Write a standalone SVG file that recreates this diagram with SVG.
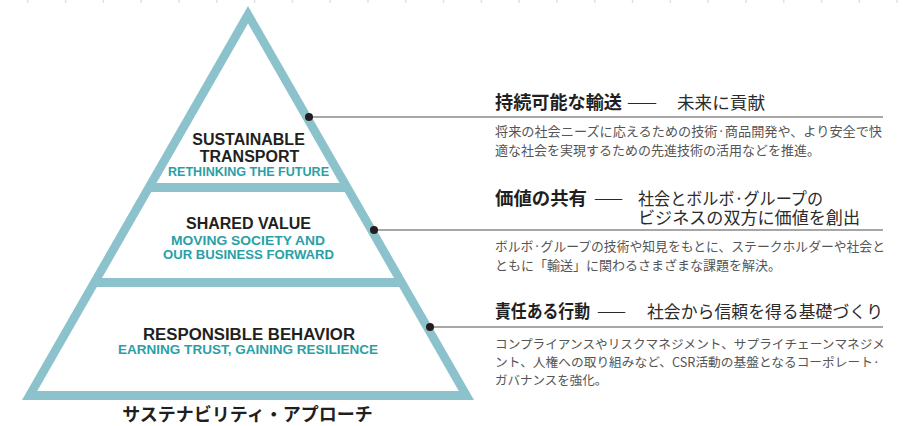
<svg xmlns="http://www.w3.org/2000/svg" width="903" height="426" viewBox="0 0 903 426">
  <style>
    .band { fill: #8cc2cc; }
    .inner { fill: #ffffff; }
    .tier-title { font-family: "Liberation Sans", Arial, sans-serif; font-weight: 700; font-size: 16px; fill: #231f20; text-anchor: middle; }
    .tier-sub { font-family: "Liberation Sans", Arial, sans-serif; font-weight: 700; font-size: 12px; fill: #2a9fa6; text-anchor: middle; }
    .jp { font-family: "Noto Sans CJK JP", "Noto Sans", sans-serif; }
    .head { font-size: 18px; font-weight: 700; fill: #1f1f1f; }
    .subhead { font-size: 17px; font-weight: 400; fill: #2b2b2b; }
    .dash { font-size: 15px; fill: #2b2b2b; }
    .body { font-size: 13px; fill: #555555; }
    .body-tight { font-size: 12.5px; fill: #555555; }
    .caption { font-size: 18px; font-weight: 700; fill: #1f1f1f; text-anchor: middle; }
    .leader { stroke: #8a8a8a; stroke-width: 1.5; fill: none; }
    .dot { fill: #231f20; }
  </style>

  <!-- faint tick row along the top edge -->
  <line x1="27" y1="1.5" x2="903" y2="1.5" stroke="#dde2e4" stroke-width="3" stroke-dasharray="1.5 36.3"/>

  <!-- pyramid outline (coloured bands show between the white tiers) -->
  <polygon class="band" points="248,6 22,400 474,400"/>

  <g id="tier-sustainable-transport">
    <polygon class="inner" points="248,23.4 156.5,183 339.5,183"/>
    <text class="tier-title" x="248.5" y="145">SUSTAINABLE</text>
    <text class="tier-title" x="249.5" y="162">TRANSPORT</text>
    <text class="tier-sub" x="248.5" y="176" textLength="161" lengthAdjust="spacingAndGlyphs">RETHINKING THE FUTURE</text>
  </g>

  <g id="tier-shared-value">
    <polygon class="inner" points="151.3,192 344.7,192 394,278 102,278"/>
    <text class="tier-title" x="248.5" y="229">SHARED VALUE</text>
    <text class="tier-sub" x="248" y="245" textLength="154" lengthAdjust="spacingAndGlyphs">MOVING SOCIETY AND</text>
    <text class="tier-sub" x="248.5" y="259" textLength="171" lengthAdjust="spacingAndGlyphs">OUR BUSINESS FORWARD</text>
  </g>

  <g id="tier-responsible-behavior">
    <polygon class="inner" points="96.8,287 399.2,287 458.8,391 37.2,391"/>
    <text class="tier-title" x="249" y="340" textLength="212" lengthAdjust="spacingAndGlyphs">RESPONSIBLE BEHAVIOR</text>
    <text class="tier-sub" x="248" y="354" textLength="260" lengthAdjust="spacingAndGlyphs">EARNING TRUST, GAINING RESILIENCE</text>
  </g>

  <g id="caption">
    <text class="jp caption" x="247.5" y="421">サステナビリティ・アプローチ</text>
  </g>

  <!-- leader lines from each tier to its description -->
  <g id="connectors">
    <line class="leader" x1="309" y1="117" x2="883" y2="117"/>
    <circle class="dot" cx="309" cy="117" r="4"/>
    <line class="leader" x1="374" y1="230" x2="883" y2="230"/>
    <circle class="dot" cx="374" cy="230" r="4"/>
    <line class="leader" x1="430" y1="327" x2="883" y2="327"/>
    <circle class="dot" cx="430" cy="327" r="4"/>
  </g>

  <g id="label-sustainable-transport" class="jp">
    <text class="head" x="495" y="109" textLength="127" lengthAdjust="spacingAndGlyphs">持続可能な輸送</text>
    <text class="dash" x="627" y="108" textLength="30" lengthAdjust="spacingAndGlyphs">——</text>
    <text class="subhead" x="677" y="109" textLength="88" lengthAdjust="spacingAndGlyphs">未来に貢献</text>
    <text class="body" x="495" y="136" textLength="387" lengthAdjust="spacingAndGlyphs">将来の社会ニーズに応えるための技術·商品開発や、より安全で快</text>
    <text class="body" x="495" y="155">適な社会を実現するための先進技術の活用などを推進。</text>
  </g>

  <g id="label-shared-value" class="jp">
    <text class="head" x="495" y="205" textLength="92" lengthAdjust="spacingAndGlyphs">価値の共有</text>
    <text class="dash" x="594" y="204" textLength="29" lengthAdjust="spacingAndGlyphs">——</text>
    <text class="subhead" x="638" y="205" textLength="185" lengthAdjust="spacingAndGlyphs">社会とボルボ·グループの</text>
    <text class="subhead" x="638" y="224" textLength="222" lengthAdjust="spacingAndGlyphs">ビジネスの双方に価値を創出</text>
    <text class="body" x="495" y="251" textLength="390" lengthAdjust="spacingAndGlyphs">ボルボ·グループの技術や知見をもとに、ステークホルダーや社会と</text>
    <text class="body" x="495" y="270">ともに「輸送」に関わるさまざまな課題を解決。</text>
  </g>

  <g id="label-responsible-behavior" class="jp">
    <text class="head" x="495" y="318" textLength="95" lengthAdjust="spacingAndGlyphs">責任ある行動</text>
    <text class="dash" x="597" y="317" textLength="29" lengthAdjust="spacingAndGlyphs">——</text>
    <text class="subhead" x="647" y="318" textLength="236" lengthAdjust="spacingAndGlyphs">社会から信頼を得る基礎づくり</text>
    <text class="body-tight" x="495" y="349" textLength="390" lengthAdjust="spacingAndGlyphs">コンプライアンスやリスクマネジメント、サプライチェーンマネジメ</text>
    <text class="body-tight" x="495" y="367" textLength="385" lengthAdjust="spacingAndGlyphs">ント、人権への取り組みなど、CSR活動の基盤となるコーポレート·</text>
    <text class="body-tight" x="495" y="385">ガバナンスを強化。</text>
  </g>
</svg>
